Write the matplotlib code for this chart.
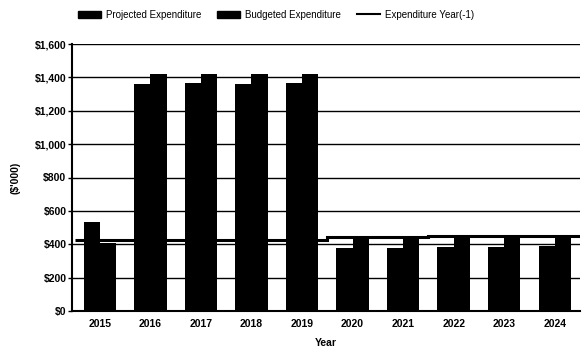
import matplotlib
matplotlib.use("Agg")
import matplotlib.pyplot as plt
from matplotlib.patches import Patch
from matplotlib.lines import Line2D
import numpy as np

years = ["2015", "2016", "2017", "2018", "2019", "2020", "2021", "2022", "2023", "2024"]
projected = [535, 1360, 1365, 1360, 1365, 375, 380, 385, 385, 390]
budgeted = [410, 1420, 1418, 1418, 1420, 432, 435, 438, 440, 450]
expenditure_prev = [425, 425, 425, 425, 425, 445, 445, 448, 448, 450]
yticks = [0, 200, 400, 600, 800, 1000, 1200, 1400, 1600]
ytick_labels = ["$0", "$200", "$400", "$600", "$800", "$1,000", "$1,200", "$1,400", "$1,600"]

plt.rcParams['font.family'] = ['Liberation Sans', 'DejaVu Sans']

fig = plt.figure(figsize=(5.82, 3.49), dpi=100)
ax = fig.add_axes([72/582, 1 - 311/349, (580-72)/582, (311-44)/349])

x = np.arange(len(years))
w = 0.32
ax.bar(x - w/2, projected, width=w, color='black', zorder=3)
ax.bar(x + w/2, budgeted, width=w, color='black', zorder=3)
edges = np.arange(len(years) + 1) - 0.5
ax.stairs(expenditure_prev, edges, color='black', linewidth=2.2, zorder=4, baseline=None)

ax.set_ylim(0, 1600)
ax.set_xlim(-0.55, 9.5)
ax.set_yticks(yticks)
ax.set_yticklabels(ytick_labels, fontsize=7.5, fontweight='bold')
ax.set_xticks(x)
ax.set_xticklabels(years, fontsize=7.5, fontweight='bold')
ax.yaxis.grid(True, color='black', linewidth=1.0, zorder=0)
ax.set_axisbelow(True)
for s in ['top', 'right']:
    ax.spines[s].set_visible(False)
ax.spines['left'].set_linewidth(1.5)
ax.spines['bottom'].set_linewidth(1.5)
ax.tick_params(axis='y', length=3, width=1, pad=1)
ax.tick_params(axis='x', length=0, pad=6)

ax.set_xlabel("Year", fontsize=7.5, fontweight='bold', labelpad=6)
ax.set_ylabel("($'000)", fontsize=7.5, fontweight='bold', labelpad=10)

handles = [Patch(facecolor='black', edgecolor='black'),
           Patch(facecolor='black', edgecolor='black'),
           Line2D([0], [0], color='black', linewidth=1.5)]
labels = ["Projected Expenditure", "Budgeted Expenditure", "Expenditure Year(-1)"]
fig.legend(handles, labels, loc='center', bbox_to_anchor=(276/582, 1 - 15/349), ncol=3,
           frameon=False, fontsize=7, handlelength=2.4, handleheight=0.8,
           columnspacing=1.6, handletextpad=0.5)

fig.savefig("out.png", dpi=100)
